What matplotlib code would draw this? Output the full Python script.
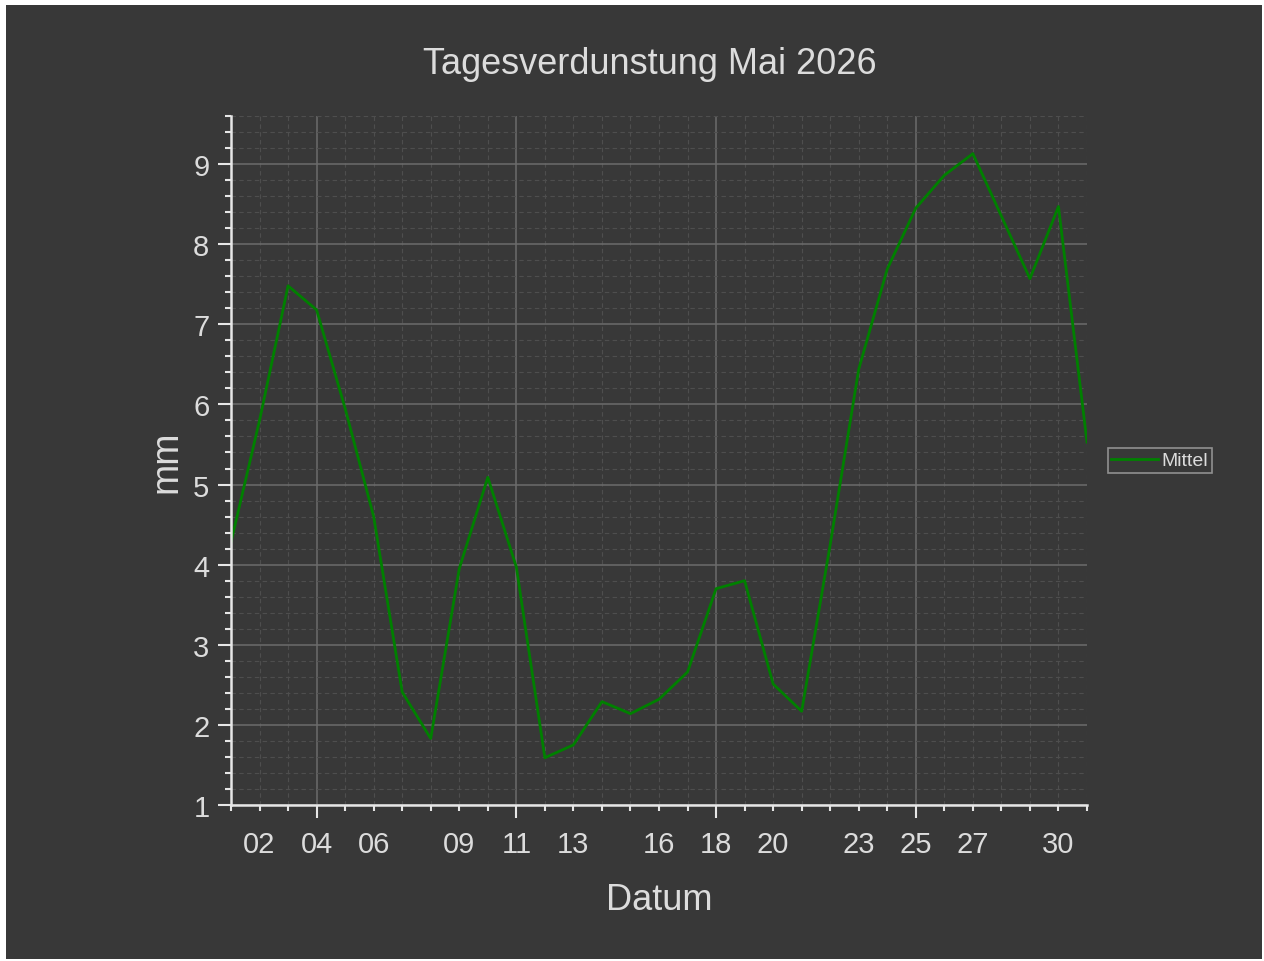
import matplotlib
matplotlib.use("Agg")
import matplotlib.pyplot as plt
import matplotlib.dates as mdates
from matplotlib.patches import Rectangle
from matplotlib.ticker import FuncFormatter, MultipleLocator
import pandas as pd

plt.rcParams['font.family'] = ['Liberation Sans', 'DejaVu Sans']

days = pd.date_range("2026-05-01", "2026-05-31", freq="D")
mittel = [4.28, 5.8, 7.48, 7.18, 5.95, 4.6, 2.41, 1.83, 3.95, 5.09,
          3.97, 1.59, 1.75, 2.29, 2.14, 2.32, 2.66, 3.70, 3.80, 2.51,
          2.17, 4.25, 6.44, 7.69, 8.45, 8.86, 9.13, 8.35, 7.57, 8.47,
          5.53]
minor_labels = [2, 6, 9, 13, 16, 20, 23, 27, 30]

bg = "#383838"
fg = "#dcdcdc"
spine_col = "#e6e6e6"

fig = plt.figure(figsize=(12.64, 9.62), dpi=100, facecolor="white")
fig.patches.append(Rectangle((6 / 1264, 2 / 962), 1256 / 1264, 954 / 962,
                             transform=fig.transFigure, facecolor=bg,
                             edgecolor="none", zorder=-10))

ax = fig.add_axes([231 / 1264, 1 - 806 / 962, 856 / 1264, 689 / 962])
ax.set_facecolor(bg)

ax.plot(days, mittel, color="#008000", lw=2.0, label="Mittel")

ax.set_xlim(days[0], days[-1])
ax.set_ylim(1, 9.6)

ax.xaxis.set_major_locator(mdates.WeekdayLocator(byweekday=mdates.MO))
ax.xaxis.set_minor_locator(mdates.DayLocator())
ax.xaxis.set_major_formatter(mdates.DateFormatter("%d"))
ax.xaxis.set_minor_formatter(FuncFormatter(
    lambda v, pos: mdates.num2date(v).strftime("%d")
    if mdates.num2date(v).day in minor_labels else ""))
ax.yaxis.set_major_locator(MultipleLocator(1))
ax.yaxis.set_minor_locator(MultipleLocator(0.2))

for s in ["top", "right"]:
    ax.spines[s].set_visible(False)
for s in ["left", "bottom"]:
    ax.spines[s].set_color(spine_col)
    ax.spines[s].set_linewidth(1.8)

ax.tick_params(axis="both", which="both", colors=spine_col, labelcolor=fg,
               labelsize=21, width=1.5, direction="out")
ax.tick_params(axis="x", which="major", length=9, pad=9)
ax.tick_params(axis="x", which="minor", length=4.5, pad=13.5)
ax.tick_params(axis="y", which="major", length=9.5, pad=6)
ax.tick_params(axis="y", which="minor", length=4.5)

ax.grid(which="major", color="#6c6c6c", lw=1.1, ls="-")
ax.grid(which="minor", color="#4e4e4e", lw=0.8, ls=(0, (4, 3)))
ax.set_axisbelow(True)

fig.text(650 / 1264, 1 - 64 / 962, "Tagesverdunstung Mai 2026", color=fg,
         fontsize=26, ha="center", va="center")
ax.set_xlabel("Datum", color=fg, fontsize=26, labelpad=17)
ax.set_ylabel("mm", color=fg, fontsize=27, labelpad=6)

leg = ax.legend(loc="center left", bbox_to_anchor=(1.024, 0.5),
                borderaxespad=0, fontsize=14, frameon=True, fancybox=False,
                handlelength=2.4, handletextpad=0.15, borderpad=0.2)
leg.get_frame().set_facecolor(bg)
leg.get_frame().set_edgecolor("#909090")
leg.get_frame().set_linewidth(1.2)
leg.get_frame().set_alpha(1)
for t in leg.get_texts():
    t.set_color(fg)

fig.savefig("out.png", dpi=100, facecolor=fig.get_facecolor())
